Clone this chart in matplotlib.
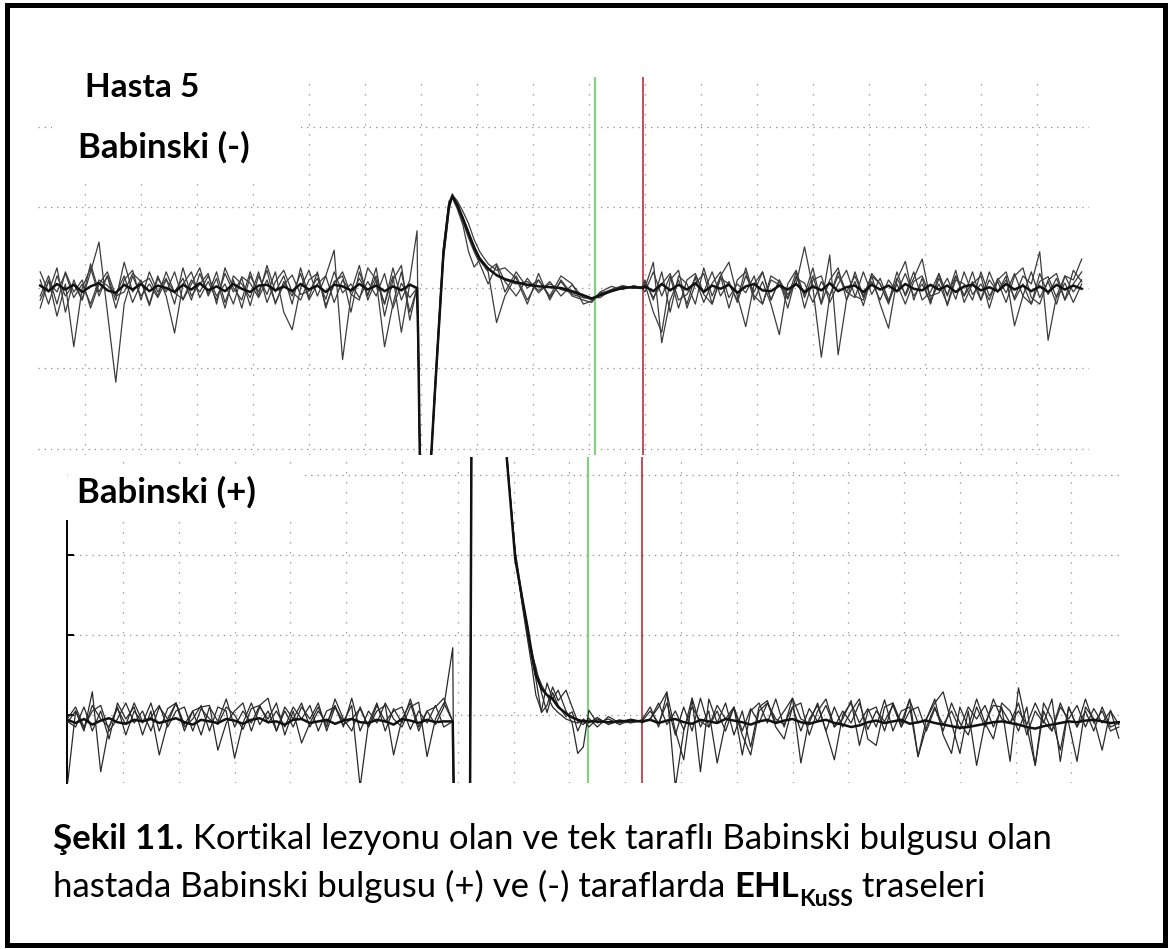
import numpy as np
import matplotlib.pyplot as plt
from matplotlib.patches import Rectangle

plt.rcParams['font.family'] = ['Lato', 'DejaVu Sans']

W, H = 1171, 949
STEP = 1.5  # ms, ornekleme araligi

# ---------- ust panel: Babinski (-)  (zaman ms, genlik uV) ----------
top_pre_start = 2.0
top_pre_a = [10, -20, 15, -10, 5, -15, 20, 57, -30, -117, -20, 15, -10, 5, -12, 10, -5, 12, -15, 18,
             -8, 20, -18, 10, -25, 15, -5, 22, -20, 8, -10, 18, -15, 5, 15, 47, -89, -10, 12, -8,
             15, -20, 25, -15, 10]
top_pre_b = [-25, 10, -35, 5, -73, 0, 25, -10, 15, -15, 32, -5, 10, -20, 15, -10, -56, 5, 20, -12,
             8, -15, 18, -5, 12, -22, 15, -8, 20, -30, -52, 0, 22, -10, 15, -18, 10, -5, 28, -15,
             10, -73, -20, 20, -30]
top_pre_c = [20, -5, 25, -30, 10, -15, 30, -5, 15, -25, 10, 22, -15, 20, -5, 12, -20, 25, -10, 5,
             18, -20, 25, 0, -15, 20, -10, 28, -5, 15, -20, 25, -12, 20, -25, 8, 15, -30, 20, -10,
             25, -35, 10, 28, -40]
top_pre_d = [-10, 15, -20, 20, -5, 10, -25, 5, 20, -10, -5, 18, 8, -22, 12, -5, 20, -15, 5, 25,
             -10, 12, -25, 15, 5, -12, 20, -18, 8, 22, -5, -15, 10, 18, -22, 5, 20, -8, -15, 25,
             10, -20, 15, -55, 5]
top_pre_f = [-15, 8, -5, 18, -12, 5, -20, 10, 3, -8, 15, -18, 6, 12, -10, 20, -6, -14, 10, -5,
             15, -10, 5, -20, 14, 6, -12, 10, -18, 4, 16, -8, -4, 12, -14, 20, -6, 5, -12, 8,
             -10, 18, -25, 6, -12]
top_pre_e = [3, -4, 5, -2, 4, -5, 2, 6, -3, -6, 4, -2, 5, -4, 3, 0, -5, 4, -2, 6,
             -3, 2, -4, 5, -1, -5, 3, 4, -3, 2, -4, 5, -2, 3, -5, 4, 2, -3, 5, -2,
             3, -4, 2, -3, 4]

top_ev_t = [69.3, 69.5, 69.9, 71.3, 71.9, 72.5, 73.2, 74.0, 75.0, 75.6, 76.5, 77.5, 78.5, 79.5, 80.5,
            82.0, 83.5, 85.0, 87.0, 89.0, 91.0, 93.0, 95.0, 97.0, 99.0, 100.5, 102.0, 104.0, 106.0,
            108.0, 109.6]
top_ev_a = [71, -60, -260, -260, -200, -130, -50, 40, 100, 115, 105, 88, 70, 52, 38, 25, 15, 10, 5, 8,
            -3, 5, -2, -6, -10, -15, -8, -3, 2, 0, 0]
top_ev_b = [0, -70, -260, -260, -195, -120, -40, 50, 108, 112, 98, 78, 45, 26, 35, 20, -43, -10, 15, -15,
            10, -12, 8, -10, -15, -18, -5, 2, -2, 3, 0]
top_ev_c = [0, -50, -260, -260, -205, -135, -55, 35, 95, 116, 108, 95, 80, 60, 45, 30, 22, 25, 12, -20,
            18, -15, 10, -8, -12, -12, -12, -2, 3, 0, 2]
top_ev_d = [0, -65, -260, -260, -200, -128, -45, 45, 105, 117, 100, 82, 62, 45, 30, 5, 28, -5, 20, 0,
            10, -10, 15, 5, -20, -16, -6, -4, 0, 2, -1]
top_ev_f = [0, -62, -260, -260, -198, -125, -42, 48, 104, 113, 101, 84, 66, 48, 34, 22, 30, 8, -10, 12,
            -6, 8, -10, 4, -12, -14, -7, -2, 1, 0, 1]
top_ev_e = [0, -60, -260, -260, -200, -128, -48, 42, 102, 114, 103, 86, 68, 50, 36, 24, 16, 11, 7, 4,
            2, 1, 0, -4, -9, -13, -9, -4, 0, 1, 0]

top_post_start = 110.0
top_post_a = [0, 32, -68, -15, 10, -20, 15, -5, 20, -10, 8, -18, 15, -5, 20, -15, 10, -8, 5, 51,
              0, -86, -10, 20, -5, 15, -12, 8, -15, 10, -5, 18, -10, 5, -18, 12, -8, 15, -10, 8,
              -15, 20, -5, 10, -12, 15, 5, 45, -65, -10, 15, -5, 10]
top_post_b = [5, -30, -55, 10, 22, -25, 5, 18, -20, 15, 32, -10, -48, 5, 20, -15, 10, -25, 15, -8,
              25, -20, 41, -83, -15, 20, -10, 15, -20, -50, 10, 33, -15, 12, -20, 18, -10, 22, -18, 5,
              15, -25, 10, 20, -15, 5, -20, 18, -8, 12, -15, 22, 8]
top_post_c = [10, -15, 20, -30, 15, 5, -20, 25, -10, 15, -25, 10, 20, -15, 8, -20, -58, 5, 22, -12,
              15, -20, 10, 25, -15, 8, -22, 15, 5, -18, 20, -10, 12, 36, -15, 5, -20, 15, -10, 20,
              -15, 10, -5, 15, -47, -10, 20, -12, 8, -20, 15, 10, 36]
top_post_d = [-5, 20, -10, 15, -25, 10, 18, -8, -20, 12, 5, -15, 25, -10, -20, 15, 8, -12, 20, -25,
              10, 15, -18, 5, 22, -10, -15, 18, 5, -20, 12, -8, 20, -15, -5, 18, -22, 10, 5, -15,
              20, -10, 8, -18, 15, 25, -12, -20, 10, 18, -15, 5, 20]
top_post_f = [8, -12, 5, 18, -15, -8, 12, -18, 6, 20, -12, 5, -6, 15, -20, 10, 4, -14, 12, 6,
              -18, 8, -10, 15, -5, -12, 20, -8, 12, -15, 5, -20, 8, 15, -10, -6, 12, -14, 20, -8,
              5, -15, 12, -6, 18, -10, -20, 8, 14, -12, 6, -18, 5]
top_post_e = [2, -4, 5, -3, 4, -2, 6, -5, 3, -1, 4, -6, 2, 5, -3, -4, 3, -2, 5, -5,
              2, -3, 6, -4, 1, 3, -5, 4, -2, 3, -4, 5, -1, -3, 4, -2, 3, -5, 2, 4,
              -3, 1, -4, 5, -2, 3, -4, 2, -5, 4, -2, 3, -1]

# ---------- alt panel: Babinski (+) ----------
bot_pre_start = 0.0
bot_pre_a = [-90, 5, -20, 29, -71, -15, 10, -25, 5, -10, 15, -20, 8, 15, -12, 5, -25, 10, -8, 20,
             -15, 5, -10, 12, 21, -20, 5, -15, 10, -5, 15, -20, 10, -8, 12, -90, -10, 15, -20, 8,
             -10, 20, -15, 5, -12, 10]
bot_pre_b = [-8, -15, 10, -20, 5, -30, 15, -5, 10, -25, 5, -50, -10, 15, -20, 5, 10, 12, -44, -10,
             5, 15, -20, 10, -5, 15, -25, 5, -35, -10, 10, -15, 20, -5, -20, 10, -15, 5, 12, -50,
             -5, 15, -20, 5, 10, 21]
bot_pre_c = [-5, 10, -15, 5, 12, -20, -5, 15, -10, 5, -20, 10, -5, 15, -15, -5, 12, -20, 10, 5,
             -54, -10, 15, -12, 5, -20, 10, -5, 15, -15, 5, -10, 12, -15, 21, -20, 5, -10, 15, -5,
             -15, 10, 16, -52, -5, 15]
bot_pre_d = [-10, 5, -18, 12, -5, -15, 8, -12, 15, -8, -3, 12, -15, 5, 10, -20, 8, -5, -12, 10,
             0, -18, 8, 12, -10, 5, -15, 10, -5, 12, -20, 5, 10, -12, -5, 8, -15, 12, -8, 5,
             10, -18, 5, -10, 12, -15]
bot_pre_e = [-6, -10, -5, -12, -7, -4, -9, -11, -6, -8, -5, -10, -7, -4, -9, -12, -6, -8, -10, -5,
             -7, -11, -6, -4, -9, -8, -12, -6, -5, -10, -8, -6, -11, -7, -5, -9, -10, -6, -8, -12,
             -5, -7, -10, -6, -9, -8]

bot_ev_t = [69.1, 69.3, 70.5, 72.2, 72.5, 78.3, 78.8, 80.3, 81.5, 82.5, 83.3, 84.0, 85.0, 86.0, 87.0,
            88.0, 89.4, 90.5, 91.5, 92.5, 93.5, 95.0, 97.0, 99.0, 101.0, 103.0]
bot_ev_a = [84, -110, -110, -110, 420, 420, 322, 200, 140, 95, 60, 25, 5, 40, 20, 31, 5, -10, -48, -40,
            6, -10, -5, -12, -6, -8]
bot_ev_b = [-8, -110, -110, -110, 420, 420, 318, 205, 150, 105, 80, 55, 38, 25, 10, 3, -5, -8, -10, -6,
            -15, -5, -10, -6, -9, -8]
bot_ev_c = [-8, -110, -110, -110, 420, 420, 325, 198, 145, 98, 70, 45, 3, 12, 35, 18, 31, 10, -8, -12,
            -4, -15, -2, -10, -5, -9]
bot_ev_d = [-8, -110, -110, -110, 420, 420, 320, 202, 142, 102, 76, 60, 28, 3, 28, 12, -2, 4, -20, -5,
            -10, -3, -12, -7, -10, -6]
bot_ev_e = [-8, -110, -110, -110, 420, 420, 320, 195, 148, 110, 75, 50, 33, 25, 20, 10, 2, -3, -6, -8,
            -8, -8, -9, -8, -7, -8]

bot_post_start = 103.0
bot_post_a = [-8, -5, 10, 29, -90, -20, 21, -15, 5, -60, -10, 8, -25, -50, 5, 15, -10, 5, 21, -60,
              -5, 12, -20, -56, 0, 15, -10, 8, -15, 19, -20, 5, 10, -52, -5, 15, 29, -10, -48, 5,
              -63, -10, 12, 10, -58, 34, -15, -63, 5, -20, 15, -10, -58, 10, -5, -44, 6, -29]
bot_post_b = [-6, 10, -15, 27, -20, -56, 21, -71, 20, -10, 15, -25, 5, -40, 10, 18, -15, -30, 10, 15,
              -25, 5, 20, -15, -5, 18, -38, 5, 10, -20, 15, -15, 19, -10, -5, 20, -25, -48, 10, -15,
              20, -10, -30, 15, 5, -20, 10, -63, 15, -5, -44, 10, -15, 20, -10, 5, -20, -15]
bot_post_c = [-8, 5, -10, 15, -25, 10, -20, 21, -15, 5, -20, 10, -50, 5, 15, -10, 20, -15, 21, -5,
              -10, 15, -20, 10, -15, 5, 20, -30, -38, 10, 15, -10, 20, -52, -15, 10, -20, 15, -10, -25,
              10, -15, 20, -5, -10, 15, -25, 5, -10, 20, -58, 10, -15, 5, -20, 10, -15, -10]
bot_post_d = [-10, -5, 15, -12, 5, -18, 10, -8, -15, 12, -5, 10, -20, 8, -10, 15, -5, -12, 10, -20,
              8, -8, 12, -15, 5, -10, 15, -18, 5, -8, 12, -15, 5, 10, -20, 8, -12, 5, -18, 10,
              -5, 12, -15, 8, -10, 5, -12, 15, -8, -20, 10, -5, 12, -15, 8, -10, 5, -12]
bot_post_e = [-8, -6, -10, -7, -5, -9, -11, -6, -8, -10, -5, -7, -9, -12, -8, -6, -10, -7, -5, -9,
              -11, -8, -6, -10, -12, -15, -13, -9, -7, -10, -8, -6, -11, -9, -7, -10, -12, -14, -16, -15,
              -13, -11, -9, -8, -10, -12, -15, -17, -14, -12, -10, -8, -9, -7, -6, -8, -10, -9]

# imlecler (ms)
top_green, top_red = 101.1, 109.6
bot_green, bot_red = 93.3, 103.0
grid_t = list(range(10, 190, 10))
top_grid_v = [-200, -100, 0, 100, 200]
bot_grid_v = [0, 100, 200, 300]


def trace(pre_start, pre, ev_t, ev, post_start, post):
    t = np.concatenate([pre_start + STEP * np.arange(len(pre)), ev_t,
                        post_start + STEP * np.arange(len(post))])
    v = np.concatenate([pre, ev, post])
    return t, v


def px_rect(ax, x0, y0, x1, y1):
    # beyaz maske (yazilarin arkasi)
    ax.add_patch(Rectangle((x0 / W, 1 - y1 / H), (x1 - x0) / W, (y1 - y0) / H,
                           transform=fig.transFigure, facecolor='white', edgecolor='none', zorder=2))


fig = plt.figure(figsize=(W / 100, H / 100), dpi=100)

dot_v = (0, (1, 7))
dot_h = (0, (1, 4))
gcol = '#8a8a8a'

# ust panel
ax1 = fig.add_axes([38 / W, 1 - 455 / H, (1089 - 38) / W, (455 - 77) / H])
ax1.set_xlim(1.61, 189.3)
ax1.set_ylim(-207.5, 262.1)
ax1.set_axis_off()
ax1.vlines(grid_t, -207.5, 262.1, colors=gcol, linestyles=dot_v, lw=0.9, zorder=1)
ax1.hlines(top_grid_v, 1.61, 189.3, colors=gcol, linestyles=dot_h, lw=0.9, zorder=1)
px_rect(ax1, 52, 77, 300, 183)
ax1.axvline(top_green, color='#82d282', lw=1.6, zorder=2.5)
ax1.axvline(top_red, color='#b3303a', lw=1.2, zorder=2.5)

top_sets = [(top_pre_a, top_ev_a, top_post_a), (top_pre_b, top_ev_b, top_post_b),
            (top_pre_c, top_ev_c, top_post_c), (top_pre_d, top_ev_d, top_post_d),
            (top_pre_f, top_ev_f, top_post_f)]
for pre, ev, post in top_sets:
    t, v = trace(top_pre_start, pre, top_ev_t, ev, top_post_start, post)
    ax1.plot(t, v, color='#3c3c3c', lw=0.9, zorder=3, solid_joinstyle='round')
t, v = trace(top_pre_start, top_pre_e, top_ev_t, top_ev_e, top_post_start, top_post_e)
ax1.plot(t, v, color='#111111', lw=1.8, zorder=3.5, solid_joinstyle='round')

# alt panel
ax2 = fig.add_axes([67 / W, 1 - 783 / H, (1120 - 67) / W, (783 - 457) / H])
ax2.set_xlim(-0.04, 188.7)
ax2.set_ylim(-85, 322.5)
ax2.patch.set_visible(False)
for s in ['top', 'right', 'bottom']:
    ax2.spines[s].set_visible(False)
ax2.spines['left'].set_bounds(-85, 242)
ax2.spines['left'].set_linewidth(1.4)
ax2.set_xticks([])
ax2.set_yticks([0, 100, 200])
ax2.set_yticklabels([])
ax2.tick_params(axis='y', direction='in', length=5, width=1.4)
ax2.vlines(grid_t, -85, 322.5, colors=gcol, linestyles=dot_v, lw=0.9, zorder=1)
ax2.hlines(bot_grid_v, -0.04, 188.7, colors=gcol, linestyles=dot_h, lw=0.9, zorder=1)
px_rect(ax2, 68, 468, 302, 520)
ax2.axvline(bot_green, color='#82d282', lw=1.6, zorder=2.5)
ax2.axvline(bot_red, color='#b3303a', lw=1.2, zorder=2.5)

bot_sets = [(bot_pre_a, bot_ev_a, bot_post_a), (bot_pre_b, bot_ev_b, bot_post_b),
            (bot_pre_c, bot_ev_c, bot_post_c), (bot_pre_d, bot_ev_d, bot_post_d)]
for pre, ev, post in bot_sets:
    t, v = trace(bot_pre_start, pre, bot_ev_t, ev, bot_post_start, post)
    ax2.plot(t, v, color='#2a2a2a', lw=0.9, zorder=3, solid_joinstyle='round')
t, v = trace(bot_pre_start, bot_pre_e, bot_ev_t, bot_ev_e, bot_post_start, bot_post_e)
ax2.plot(t, v, color='#111111', lw=1.8, zorder=3.5, solid_joinstyle='round')

# basliklar
fig.text(85 / W, 1 - 97 / H, 'Hasta 5', fontsize=24, fontweight='bold', va='baseline')
fig.text(78 / W, 1 - 158 / H, 'Babinski (-)', fontsize=25, fontweight='bold', va='baseline')
fig.text(77 / W, 1 - 503 / H, 'Babinski (+)', fontsize=25, fontweight='bold', va='baseline')

# alt yazi
renderer = fig.canvas.get_renderer()
cap_size = 25


def put_pieces(x_px, y_px, pieces):
    x = x_px
    for s, size, weight, dy in pieces:
        txt = fig.text(x / W, 1 - (y_px + dy) / H, s, fontsize=size, fontweight=weight, va='baseline')
        x += txt.get_window_extent(renderer).width


put_pieces(53, 849, [('Şekil 11.', cap_size, 'bold', 0),
                     (' Kortikal lezyonu olan ve tek taraflı Babinski bulgusu olan', cap_size, 'normal', 0)])
put_pieces(53, 897, [('hastada Babinski bulgusu (+) ve (-) taraflarda ', cap_size, 'normal', 0),
                     ('EHL', cap_size, 'bold', 0),
                     ('KuSS', cap_size * 0.66, 'bold', 9),
                     (' traseleri', cap_size, 'normal', 0)])

# cerceve
fig.patches.append(Rectangle((7 / W, 1 - 944.5 / H), (1164.5 - 7) / W, (944.5 - 4.5) / H,
                             transform=fig.transFigure, fill=False, lw=3.6, edgecolor='black'))

fig.savefig('out.png', dpi=100)
